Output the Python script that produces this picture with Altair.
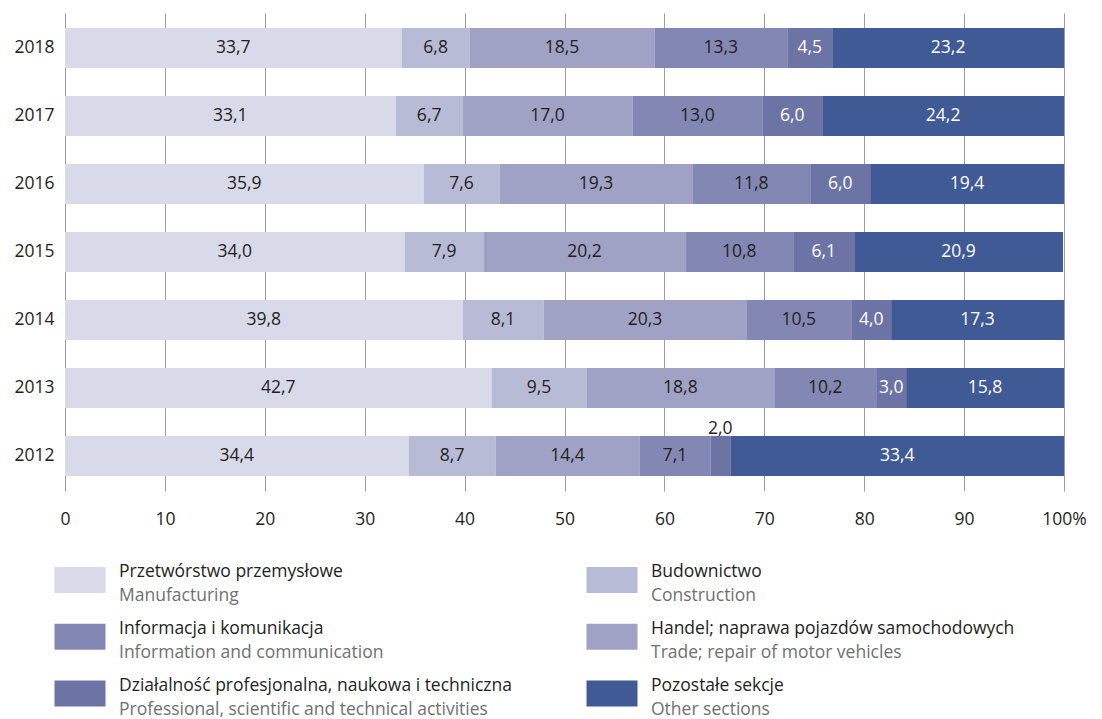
import altair as alt
import pandas as pd

years = ["2018", "2017", "2016", "2015", "2014", "2013", "2012"]
cats_pl = ["Przetwórstwo przemysłowe", "Budownictwo", "Handel; naprawa pojazdów samochodowych",
           "Informacja i komunikacja", "Działalność profesjonalna, naukowa i techniczna", "Pozostałe sekcje"]
cats_en = ["Manufacturing", "Construction", "Trade; repair of motor vehicles",
           "Information and communication", "Professional, scientific and technical activities", "Other sections"]
colors = ["#d8daea", "#b8bbd6", "#9fa2c4", "#8288b3", "#6b74a4", "#3f5a94"]

manufacturing = [33.7, 33.1, 35.9, 34.0, 39.8, 42.7, 34.4]
construction = [6.8, 6.7, 7.6, 7.9, 8.1, 9.5, 8.7]
trade = [18.5, 17.0, 19.3, 20.2, 20.3, 18.8, 14.4]
information = [13.3, 13.0, 11.8, 10.8, 10.5, 10.2, 7.1]
professional = [4.5, 6.0, 6.0, 6.1, 4.0, 3.0, 2.0]
other = [23.2, 24.2, 19.4, 20.9, 17.3, 15.8, 33.4]

# legend layout: column, row for each category
legend_col = [0, 1, 1, 0, 0, 1]
legend_row = [0, 0, 1, 1, 2, 2]

series = [manufacturing, construction, trade, information, professional, other]
rows = []
for ci, vals in enumerate(series):
    for y, v in zip(years, vals):
        rows.append({"year": y, "cat": cats_en[ci], "idx": ci, "value": v})
df = pd.DataFrame(rows)

leg_df = pd.DataFrame({"cat": cats_en, "pl": cats_pl, "en": cats_en,
                       "col": legend_col, "row": legend_row})

FONT = "Open Sans"
TXT = "#231f20"
FS = 17.5

base = alt.Chart(df).transform_stack(
    stack="value", as_=["x0", "x1"], groupby=["year"],
    sort=[alt.SortField("idx", order="ascending")]
).transform_calculate(
    mid="(datum.x0 + datum.x1) / 2",
    lab="replace(format(datum.value, '.1f'), '.', ',')"
)

yscale = alt.Scale(domain=years, paddingInner=0.41, paddingOuter=0.22)
xscale = alt.Scale(domain=[0, 100], nice=False, zero=True)
color_scale = alt.Scale(domain=cats_en, range=colors)

xaxis = alt.Axis(values=list(range(0, 101, 10)), title=None, grid=True,
                 gridColor="#9c9c9c", gridWidth=1, ticks=False, tickSize=0,
                 domain=False, labelPadding=19, labelFontSize=FS, labelFont=FONT,
                 labelColor=TXT, labelFlush=False,
                 labelExpr="datum.value == 100 ? '100%' : datum.label")
yaxis = alt.Axis(title=None, ticks=False, domain=False, labelPadding=11,
                 labelFontSize=FS, labelFont=FONT, labelColor=TXT,
                 minExtent=52, maxExtent=52)

bars = base.mark_bar().encode(
    x=alt.X("x0:Q", scale=xscale, axis=xaxis),
    x2="x1:Q",
    y=alt.Y("year:N", scale=yscale, sort=years, axis=yaxis),
    color=alt.Color("cat:N", scale=color_scale, legend=None),
)

labels = base.transform_filter("datum.value >= 2.5").mark_text(
    fontSize=FS, font=FONT, baseline="middle", align="center"
).encode(
    x=alt.X("mid:Q", scale=xscale, axis=xaxis),
    y=alt.Y("year:N", scale=yscale, sort=years, axis=yaxis),
    text="lab:N",
    color=alt.condition("datum.idx >= 4", alt.value("#ffffff"), alt.value(TXT)),
)

small = base.transform_filter("datum.value < 2.5").mark_text(
    fontSize=FS, font=FONT, baseline="middle", align="center", dy=-27, color=TXT
).encode(
    x=alt.X("mid:Q", scale=xscale, axis=xaxis),
    y=alt.Y("year:N", scale=yscale, sort=years, axis=yaxis),
    text="lab:N",
)

main = alt.layer(bars, labels, small).properties(width=999, height=478)

lx = alt.X("col:Q", scale=alt.Scale(domain=[0, 1], range=[15, 547]), axis=None)
ly = alt.Y("row:Q", scale=alt.Scale(domain=[0, 2], range=[21, 134.5]), axis=None)

leg_base = alt.Chart(leg_df)
swatch = leg_base.mark_point(
    shape="M-1,-0.51L1,-0.51L1,0.51L-1,0.51Z", size=2601, filled=True, opacity=1, strokeWidth=0
).encode(x=lx, y=ly, color=alt.Color("cat:N", scale=color_scale, legend=None))
line1 = leg_base.mark_text(align="left", baseline="middle", dx=39, dy=-8,
                           fontSize=FS, font=FONT, color=TXT).encode(x=lx, y=ly, text="pl:N")
line2 = leg_base.mark_text(align="left", baseline="middle", dx=39, dy=16,
                           fontSize=FS, font=FONT, color="#707070").encode(x=lx, y=ly, text="en:N")
legend = alt.layer(swatch, line1, line2).properties(width=999, height=150)

chart = alt.vconcat(main, legend, spacing=31).properties(
    padding={"left": 5, "top": 5, "right": 5, "bottom": 0}
).configure(font=FONT).configure_view(stroke=None)

chart.save("out.html", embed_options={"renderer": "svg", "actions": False})
